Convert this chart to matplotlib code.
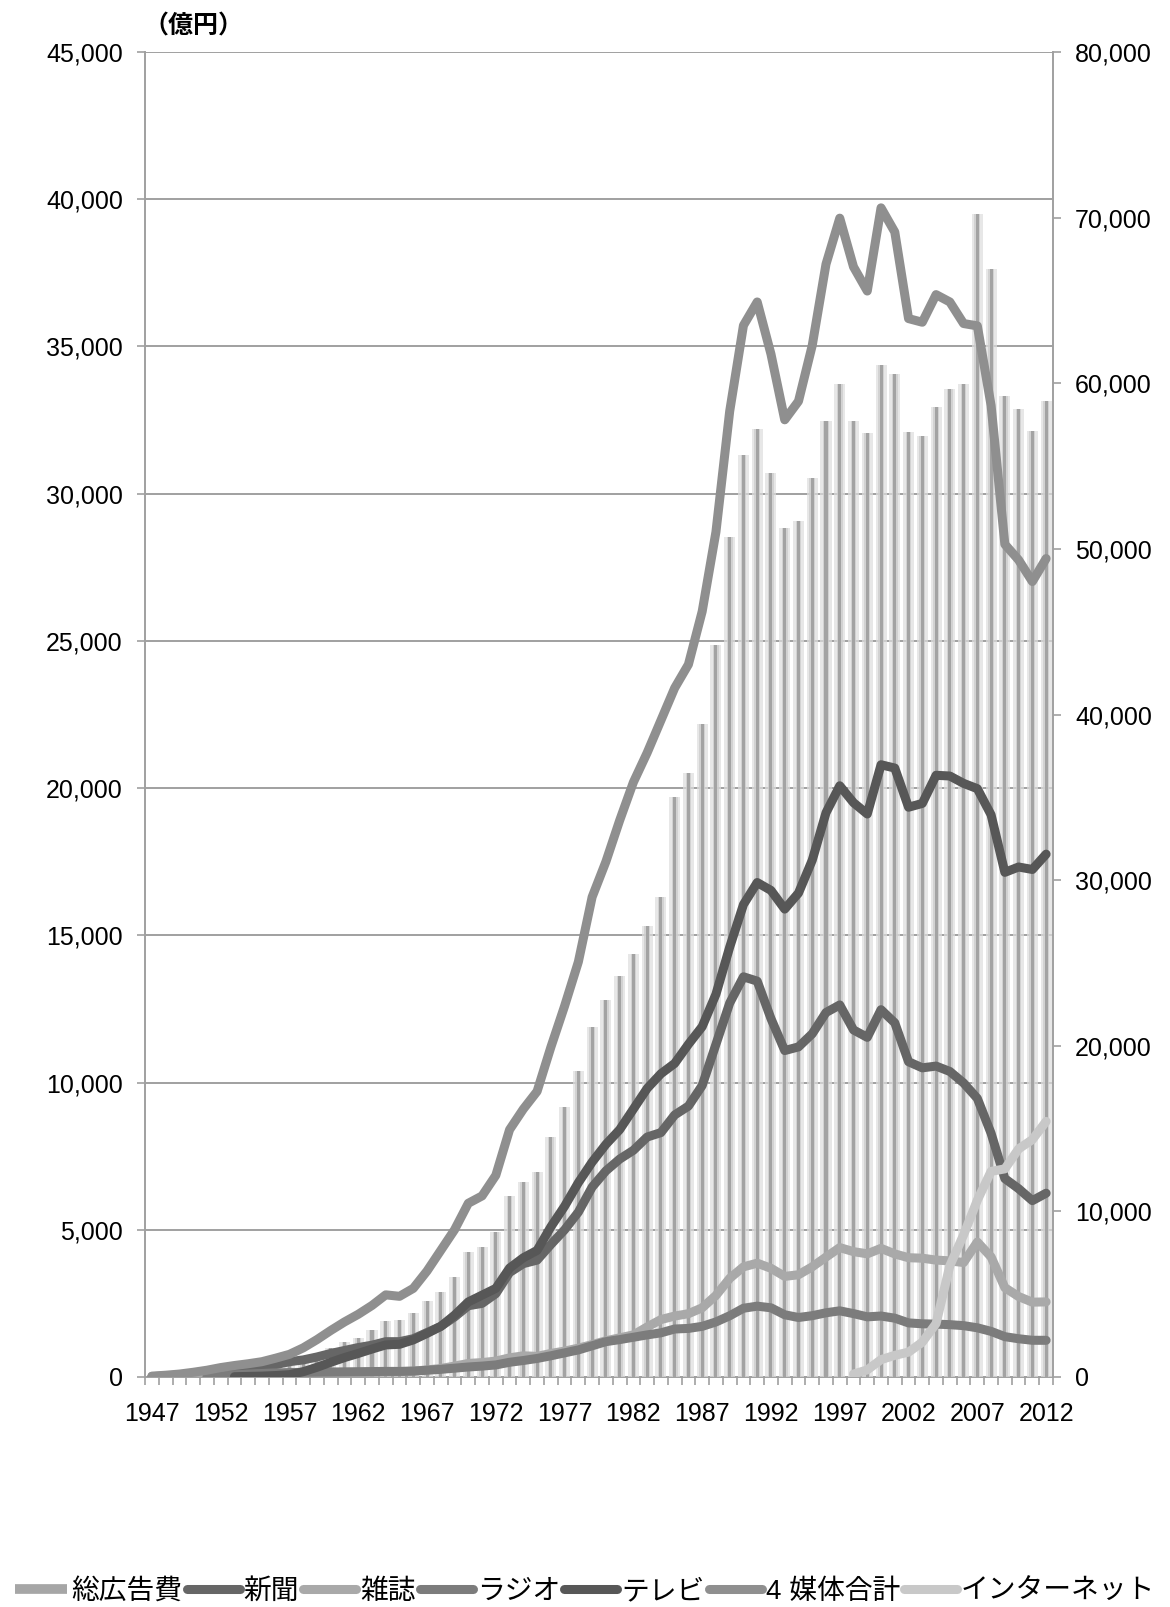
import matplotlib
matplotlib.use('Agg')
import matplotlib.pyplot as plt
import numpy as np
from matplotlib.lines import Line2D

plt.rcParams['font.family'] = ['Liberation Sans', 'Noto Sans CJK JP']

years = list(range(1947, 2013))

# 総広告費 (right axis)
total = [15, 60, 120, 215, 330, 470, 560, 600, 609, 800,
         960, 1050, 1370, 1739, 2118, 2342, 2826, 3378, 3426, 3839,
         4573, 5146, 6030, 7558, 7868, 8783, 10915, 11773, 12375, 14475,
         16325, 18495, 21110, 22783, 24183, 25540, 27205, 29000, 35049, 36478,
         39448, 44175, 50715, 55648, 57261, 54611, 51273, 51682, 54263, 57715,
         59961, 57711, 56996, 61102, 60580, 57032, 56841, 58571, 59625, 59954,
         70191, 66926, 59222, 58427, 57096, 58913]

# left axis series
newspaper = [10, 40, 70, 120, 170, 230, 270, 300, 330, 420,
             520, 580, 680, 800, 900, 1000, 1080, 1200, 1200, 1300,
             1510, 1720, 2040, 2420, 2500, 2830, 3550, 3850, 3970, 4500,
             5000, 5600, 6450, 7000, 7400, 7700, 8150, 8300, 8900, 9200,
             9900, 11300, 12700, 13592, 13445, 12172, 11087, 11211, 11657, 12379,
             12636, 11787, 11535, 12474, 12027, 10707, 10500, 10559, 10377, 9986,
             9462, 8276, 6739, 6396, 5990, 6242]

magazine = [5, 10, 20, 30, 40, 50, 55, 60, 60, 70,
            80, 85, 95, 110, 130, 150, 160, 175, 180, 200,
            240, 290, 370, 460, 490, 540, 650, 720, 700, 800,
            880, 980, 1100, 1230, 1330, 1430, 1700, 1950, 2070, 2150,
            2350, 2770, 3350, 3741, 3866, 3692, 3417, 3473, 3743, 4073,
            4395, 4258, 4183, 4369, 4180, 4051, 4035, 3970, 3945, 3887,
            4585, 4078, 3034, 2733, 2542, 2551]

radio = [None, None, None, None, 10, 40, 70, 100, 120, 140,
         150, 160, 165, 170, 175, 180, 185, 190, 190, 200,
         230, 260, 300, 340, 370, 410, 500, 560, 630, 720,
         820, 920, 1060, 1200, 1270, 1350, 1430, 1500, 1630, 1650,
         1720, 1870, 2080, 2335, 2406, 2350, 2113, 2021, 2082, 2181,
         2247, 2153, 2043, 2071, 1998, 1837, 1807, 1795, 1778, 1744,
         1671, 1549, 1370, 1299, 1247, 1246]

tv = [None, None, None, None, None, None, 10, 20, 30, 50,
      80, 180, 330, 500, 660, 800, 950, 1090, 1110, 1260,
      1480, 1720, 2100, 2550, 2780, 3010, 3700, 4050, 4300, 5100,
      5800, 6600, 7300, 7900, 8400, 9100, 9800, 10300, 10650, 11300,
      11900, 13000, 14600, 16046, 16793, 16526, 15891, 16435, 17553, 19162,
      20079, 19505, 19121, 20793, 20681, 19351, 19480, 20436, 20411, 20161,
      19981, 19092, 17139, 17321, 17237, 17757]

four_media = [30, 60, 100, 160, 230, 320, 390, 450, 520, 640,
              770, 990, 1270, 1580, 1870, 2130, 2430, 2790, 2740, 3010,
              3600, 4300, 5000, 5900, 6150, 6850, 8400, 9100, 9700, 11200,
              12600, 14100, 16300, 17500, 18900, 20200, 21200, 22300, 23400, 24200,
              26000, 28700, 32800, 35714, 36510, 34740, 32508, 33140, 35035, 37795,
              39357, 37703, 36882, 39707, 38886, 35946, 35822, 36760, 36511, 35778,
              35699, 32995, 28282, 27749, 27016, 27796]

internet = [None] * 51 + [100, 241, 590, 735, 845, 1183, 1814, 3777, 4826,
                          6003, 6983, 7069, 7747, 8062, 8680]

series = [
    ('新聞', newspaper, '#666666'),
    ('雑誌', magazine, '#a9a9a9'),
    ('ラジオ', radio, '#7c7c7c'),
    ('テレビ', tv, '#575757'),
    ('4 媒体合計', four_media, '#8f8f8f'),
    ('インターネット', internet, '#c8c8c8'),
]

grid_c = '#a0a0a0'
fig = plt.figure(figsize=(11.7, 16.07), dpi=100)
ax1 = fig.add_axes([145 / 1170, 1 - 1377 / 1607, 908 / 1170, 1325 / 1607])
ax2 = ax1.twinx()
ax3 = ax1.twinx()

# left axis + grid
ax1.set_xlim(1946.5, 2012.5)
ax1.set_ylim(0, 45000)
ax1.set_yticks(range(0, 45001, 5000))
ax1.set_yticklabels([f'{v:,}' for v in range(0, 45001, 5000)])
ax1.yaxis.grid(True, color=grid_c, lw=1.4)
ax1.set_axisbelow(True)
for s in ['top', 'right']:
    ax1.spines[s].set_visible(False)
for s in ['left', 'bottom']:
    ax1.spines[s].set_color(grid_c)
    ax1.spines[s].set_linewidth(1.4)
ax1.tick_params(axis='y', length=6, color=grid_c, width=1.2, labelsize=18, pad=10)
ax1.set_xticks(list(range(1947, 2013, 5)))
ax1.set_xticks(np.arange(1946.5, 2013, 1), minor=True)
ax1.tick_params(axis='x', which='major', length=0, labelsize=18, pad=18)
ax1.tick_params(axis='x', which='minor', length=6, color=grid_c, width=1.2)

# bars on right axis
ax2.set_ylim(0, 80000)
ax2.set_yticks(range(0, 80001, 10000))
ax2.set_yticklabels([f'{v:,}' for v in range(0, 80001, 10000)])
ax2.tick_params(axis='y', length=6, color=grid_c, width=1.2, labelsize=18, pad=10)
for s in ['top', 'left', 'bottom']:
    ax2.spines[s].set_visible(False)
ax2.spines['right'].set_color(grid_c)
ax2.spines['right'].set_linewidth(1.4)
ax2.bar(years, total, width=0.8, color='#dedede', alpha=0.7, lw=0)
ax2.bar(years, total, width=0.42, color='#cdcdcd', alpha=0.8, lw=0)
ax2.bar(years, total, width=0.22, color='#a3a3a3', lw=0)

# lines on top
ax3.set_ylim(0, 45000)
ax3.axis('off')
for name, vals, col in series:
    y = np.array([np.nan if v is None else v for v in vals], dtype=float)
    ax3.plot(years, y, color=col, lw=6.5, solid_capstyle='round',
             solid_joinstyle='round')

fig.text(193 / 1170, 1 - 26 / 1607, '（億円）', fontsize=18, fontweight='bold',
         ha='center', va='center', family=['Noto Sans CJK JP'])

handles = [Line2D([], [], color='#a6a6a6', lw=7, solid_capstyle='butt')]
labels = ['総広告費']
for name, vals, col in series:
    handles.append(Line2D([], [], color=col, lw=6.5, solid_capstyle='round'))
    labels.append(name)
fig.legend(handles, labels, loc='center', bbox_to_anchor=(0.5, 1 - 1592 / 1607),
           ncol=7, frameon=False, fontsize=20, handlelength=1.9,
           handletextpad=0.15, columnspacing=0.15, borderaxespad=0)

fig.savefig('out.png', dpi=100)
